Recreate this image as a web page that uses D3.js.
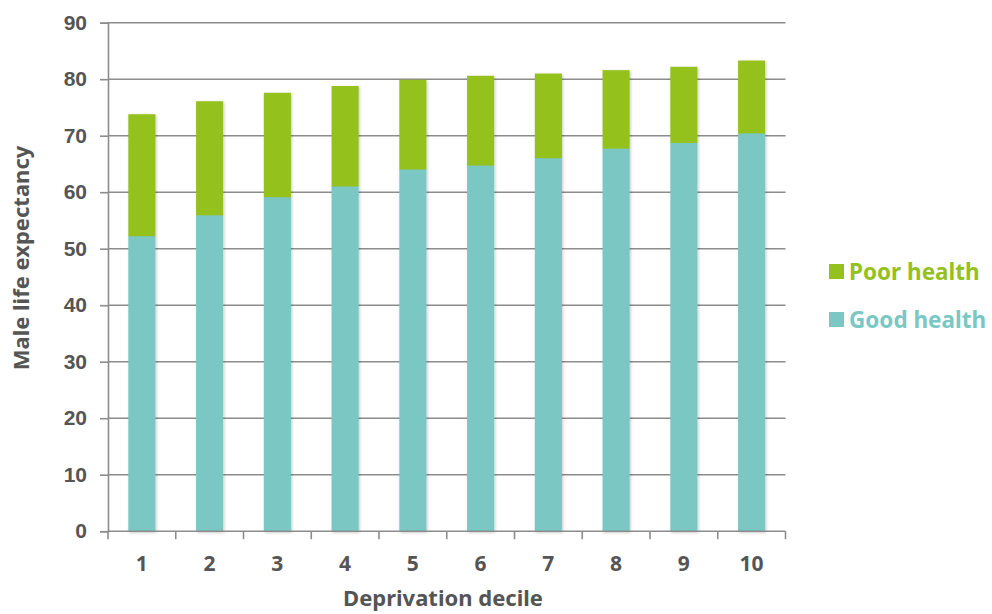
<!DOCTYPE html>
<html>
<head>
<meta charset="utf-8">
<script src="https://cdn.jsdelivr.net/npm/d3@7"></script>
<style>
  html, body { margin: 0; padding: 0; background: #fff; }
  svg { display: block; font-family: "Noto Sans", "Open Sans", sans-serif; }
</style>
</head>
<body>
<svg id="chart" width="992" height="614"></svg>
<script>
// Life expectancy by deprivation decile, split into good and poor health years
const deciles = ["1", "2", "3", "4", "5", "6", "7", "8", "9", "10"];
const goodHealth = [52.3, 56.0, 59.2, 61.1, 64.1, 64.8, 66.1, 67.8, 68.8, 70.5];
const totalExpectancy = [73.8, 76.1, 77.6, 78.8, 79.9, 80.6, 81.0, 81.6, 82.2, 83.3];
const poorHealth = totalExpectancy.map((t, i) => +(t - goodHealth[i]).toFixed(1));
const yTicks = [0, 10, 20, 30, 40, 50, 60, 70, 80, 90];
const seriesNames = ["Good health", "Poor health"];
const seriesColors = ["#7AC7C4", "#95C11F"];

const rows = deciles.map((d, i) => ({ decile: d, "Good health": goodHealth[i], "Poor health": poorHealth[i] }));

const svg = d3.select("#chart");
const margin = { left: 108, right: 206.5, top: 22.7, bottom: 82.8 };
const W = 992, H = 614;

const x = d3.scaleBand().domain(deciles).range([margin.left, W - margin.right]).paddingInner(0.6).paddingOuter(0.3);
const y = d3.scaleLinear().domain([0, 90]).range([H - margin.bottom, margin.top]);

const textColor = "#555555";
const gridColor = "#8c8c8c";
const fontW = 700;

// soft shadow under the bars
const defs = svg.append("defs");
const f = defs.append("filter").attr("id", "shadow").attr("x", "-30%").attr("y", "-10%").attr("width", "160%").attr("height", "120%");
f.append("feDropShadow").attr("dx", 1).attr("dy", 1).attr("stdDeviation", 1.6).attr("flood-color", "#000").attr("flood-opacity", 0.22);

// horizontal gridlines
svg.append("g")
  .selectAll("line")
  .data(yTicks.filter(t => t > 0))
  .join("line")
  .attr("x1", margin.left).attr("x2", W - margin.right)
  .attr("y1", d => y(d)).attr("y2", d => y(d))
  .attr("stroke", gridColor).attr("stroke-width", 1.6);

// stacked bars
const stack = d3.stack().keys(seriesNames)(rows);
const color = d3.scaleOrdinal().domain(seriesNames).range(seriesColors);

svg.append("g")
  .attr("filter", "url(#shadow)")
  .selectAll("g")
  .data(stack)
  .join("g")
  .attr("fill", d => color(d.key))
  .selectAll("rect")
  .data(d => d)
  .join("rect")
  .attr("x", d => x(d.data.decile))
  .attr("width", x.bandwidth())
  .attr("y", d => y(d[1]))
  .attr("height", d => y(d[0]) - y(d[1]) + 0.5);

// y axis
const yAxis = svg.append("g")
  .attr("transform", `translate(${margin.left},0)`)
  .call(d3.axisLeft(y).tickValues(yTicks).tickSize(8).tickPadding(13));
yAxis.select(".domain").attr("stroke", gridColor).attr("stroke-width", 1.6);
yAxis.selectAll(".tick line").attr("stroke", gridColor).attr("stroke-width", 1.6);
yAxis.selectAll(".tick text")
  .attr("fill", textColor).attr("font-size", 21).attr("font-weight", fontW);

// x axis: ticks sit on band boundaries, labels at band centres
const xAxisG = svg.append("g").attr("transform", `translate(0,${y(0)})`);
xAxisG.append("line")
  .attr("x1", margin.left).attr("x2", W - margin.right)
  .attr("stroke", gridColor).attr("stroke-width", 1.6);
const step = x.step();
const boundaries = d3.range(deciles.length + 1).map(i => x(deciles[0]) - x.paddingOuter() * step + i * step);
xAxisG.selectAll("line.tk")
  .data(boundaries)
  .join("line").attr("class", "tk")
  .attr("x1", d => d).attr("x2", d => d)
  .attr("y1", 0).attr("y2", 8)
  .attr("stroke", gridColor).attr("stroke-width", 1.6);
xAxisG.selectAll("text")
  .data(deciles)
  .join("text")
  .attr("x", d => x(d) + x.bandwidth() / 2)
  .attr("y", 40)
  .attr("text-anchor", "middle")
  .attr("fill", textColor).attr("font-size", 21).attr("font-weight", fontW)
  .text(d => d);

// axis titles
svg.append("text")
  .attr("x", 443)
  .attr("y", 606)
  .attr("text-anchor", "middle")
  .attr("fill", textColor).attr("font-size", 22).attr("font-weight", fontW)
  .text("Deprivation decile");

svg.append("text")
  .attr("transform", "translate(29,258) rotate(-90)")
  .attr("text-anchor", "middle")
  .attr("fill", textColor).attr("font-size", 22).attr("font-weight", fontW)
  .text("Male life expectancy");

// legend
const legendItems = ["Poor health", "Good health"];
const legend = svg.append("g").attr("transform", "translate(829,264)");
const li = legend.selectAll("g")
  .data(legendItems)
  .join("g")
  .attr("transform", (d, i) => `translate(0,${i * 48})`);
li.append("rect")
  .attr("width", 15).attr("height", 15)
  .attr("fill", d => color(d));
li.append("text")
  .attr("x", 20).attr("y", 15.5)
  .attr("fill", d => color(d))
  .attr("font-size", 22.5).attr("font-weight", fontW)
  .text(d => d);
</script>
</body>
</html>
